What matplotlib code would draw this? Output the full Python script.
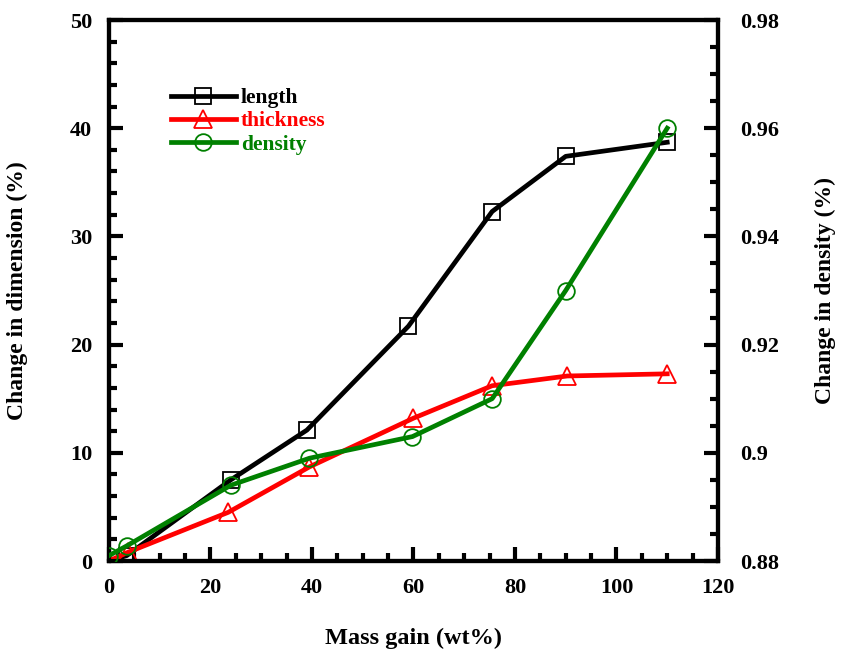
import matplotlib.pyplot as plt
from matplotlib.ticker import MultipleLocator

plt.rcParams['font.family'] = ['Liberation Serif', 'DejaVu Serif']
plt.rcParams['font.weight'] = 'bold'

# datos
mass_len = [0, 3.5, 24, 39, 59, 75.5, 90, 110]
length = [0, 0.5, 7.5, 12.1, 21.7, 32.3, 37.4, 38.7]

mass_thk = [0, 3.7, 23.5, 39.5, 60, 75.5, 90.3, 110]
thickness = [0, 0.8, 4.5, 8.7, 13.2, 16.2, 17.1, 17.3]

mass_den = [0, 3.5, 24, 39.5, 59.8, 75.5, 90, 110]
density = [0.881, 0.8828, 0.894, 0.899, 0.903, 0.910, 0.930, 0.960]

fig = plt.figure(figsize=(8.41, 6.58), dpi=100)
ax = fig.add_axes([0.1296, 0.1474, 0.7241, 0.8222])
ax2 = ax.twinx()

ms = 12
l1, = ax.plot(mass_len, length, color='black', lw=3.4, marker='s', ms=ms,
              mfc='none', mec='black', mew=1.3, label='length', zorder=3)
l2, = ax.plot(mass_thk, thickness, color='red', lw=3.4, marker='^', ms=ms + 1,
              mfc='none', mec='red', mew=1.3, label='thickness', zorder=3)
l3, = ax2.plot(mass_den, density, color='green', lw=3.4, marker='o', ms=ms,
               mfc='none', mec='green', mew=1.3, label='density', zorder=3)

ax.set_xlim(0, 120)
ax.set_ylim(0, 50)
ax2.set_ylim(0.88, 0.98)

ax.xaxis.set_major_locator(MultipleLocator(20))
ax.xaxis.set_minor_locator(MultipleLocator(5))
ax.yaxis.set_major_locator(MultipleLocator(10))
ax.yaxis.set_minor_locator(MultipleLocator(2))
ax2.yaxis.set_minor_locator(MultipleLocator(0.005))
ax2.set_yticks([0.88, 0.9, 0.92, 0.94, 0.96, 0.98])
ax2.set_yticklabels(['0.88', '0.9', '0.92', '0.94', '0.96', '0.98'])

for a in (ax, ax2):
    for s in a.spines.values():
        s.set_linewidth(3)
ax.tick_params(axis='both', which='major', direction='in', length=10, width=3,
               labelsize=16, top=False, right=False)
ax.tick_params(axis='x', which='major', pad=12)
ax.tick_params(axis='y', which='major', pad=12)
ax.tick_params(axis='both', which='minor', direction='in', length=6, width=3,
               top=False, right=False)
ax2.tick_params(axis='y', which='major', direction='in', length=10, width=3,
                labelsize=16, pad=16)
ax2.tick_params(axis='y', which='minor', direction='in', length=6, width=3)

for lab in ax.get_xticklabels() + ax.get_yticklabels() + ax2.get_yticklabels():
    lab.set_fontweight('bold')

ax.set_xlabel('Mass gain (wt%)', fontsize=17.5, fontweight='bold', labelpad=22)
ax.set_ylabel('Change in dimension (%)', fontsize=17, fontweight='bold', labelpad=30)
ax2.set_ylabel('Change in density (%)', fontsize=17, fontweight='bold', labelpad=26)

leg = ax.legend(handles=[l1, l2, l3], loc='upper left', bbox_to_anchor=(0.07, 0.91),
                frameon=False, handlelength=3.0, handletextpad=0.25,
                labelspacing=0.15, prop={'weight': 'bold', 'size': 15.5})
for txt, c in zip(leg.get_texts(), ['black', 'red', 'green']):
    txt.set_color(c)

fig.savefig('out.png', dpi=100)
